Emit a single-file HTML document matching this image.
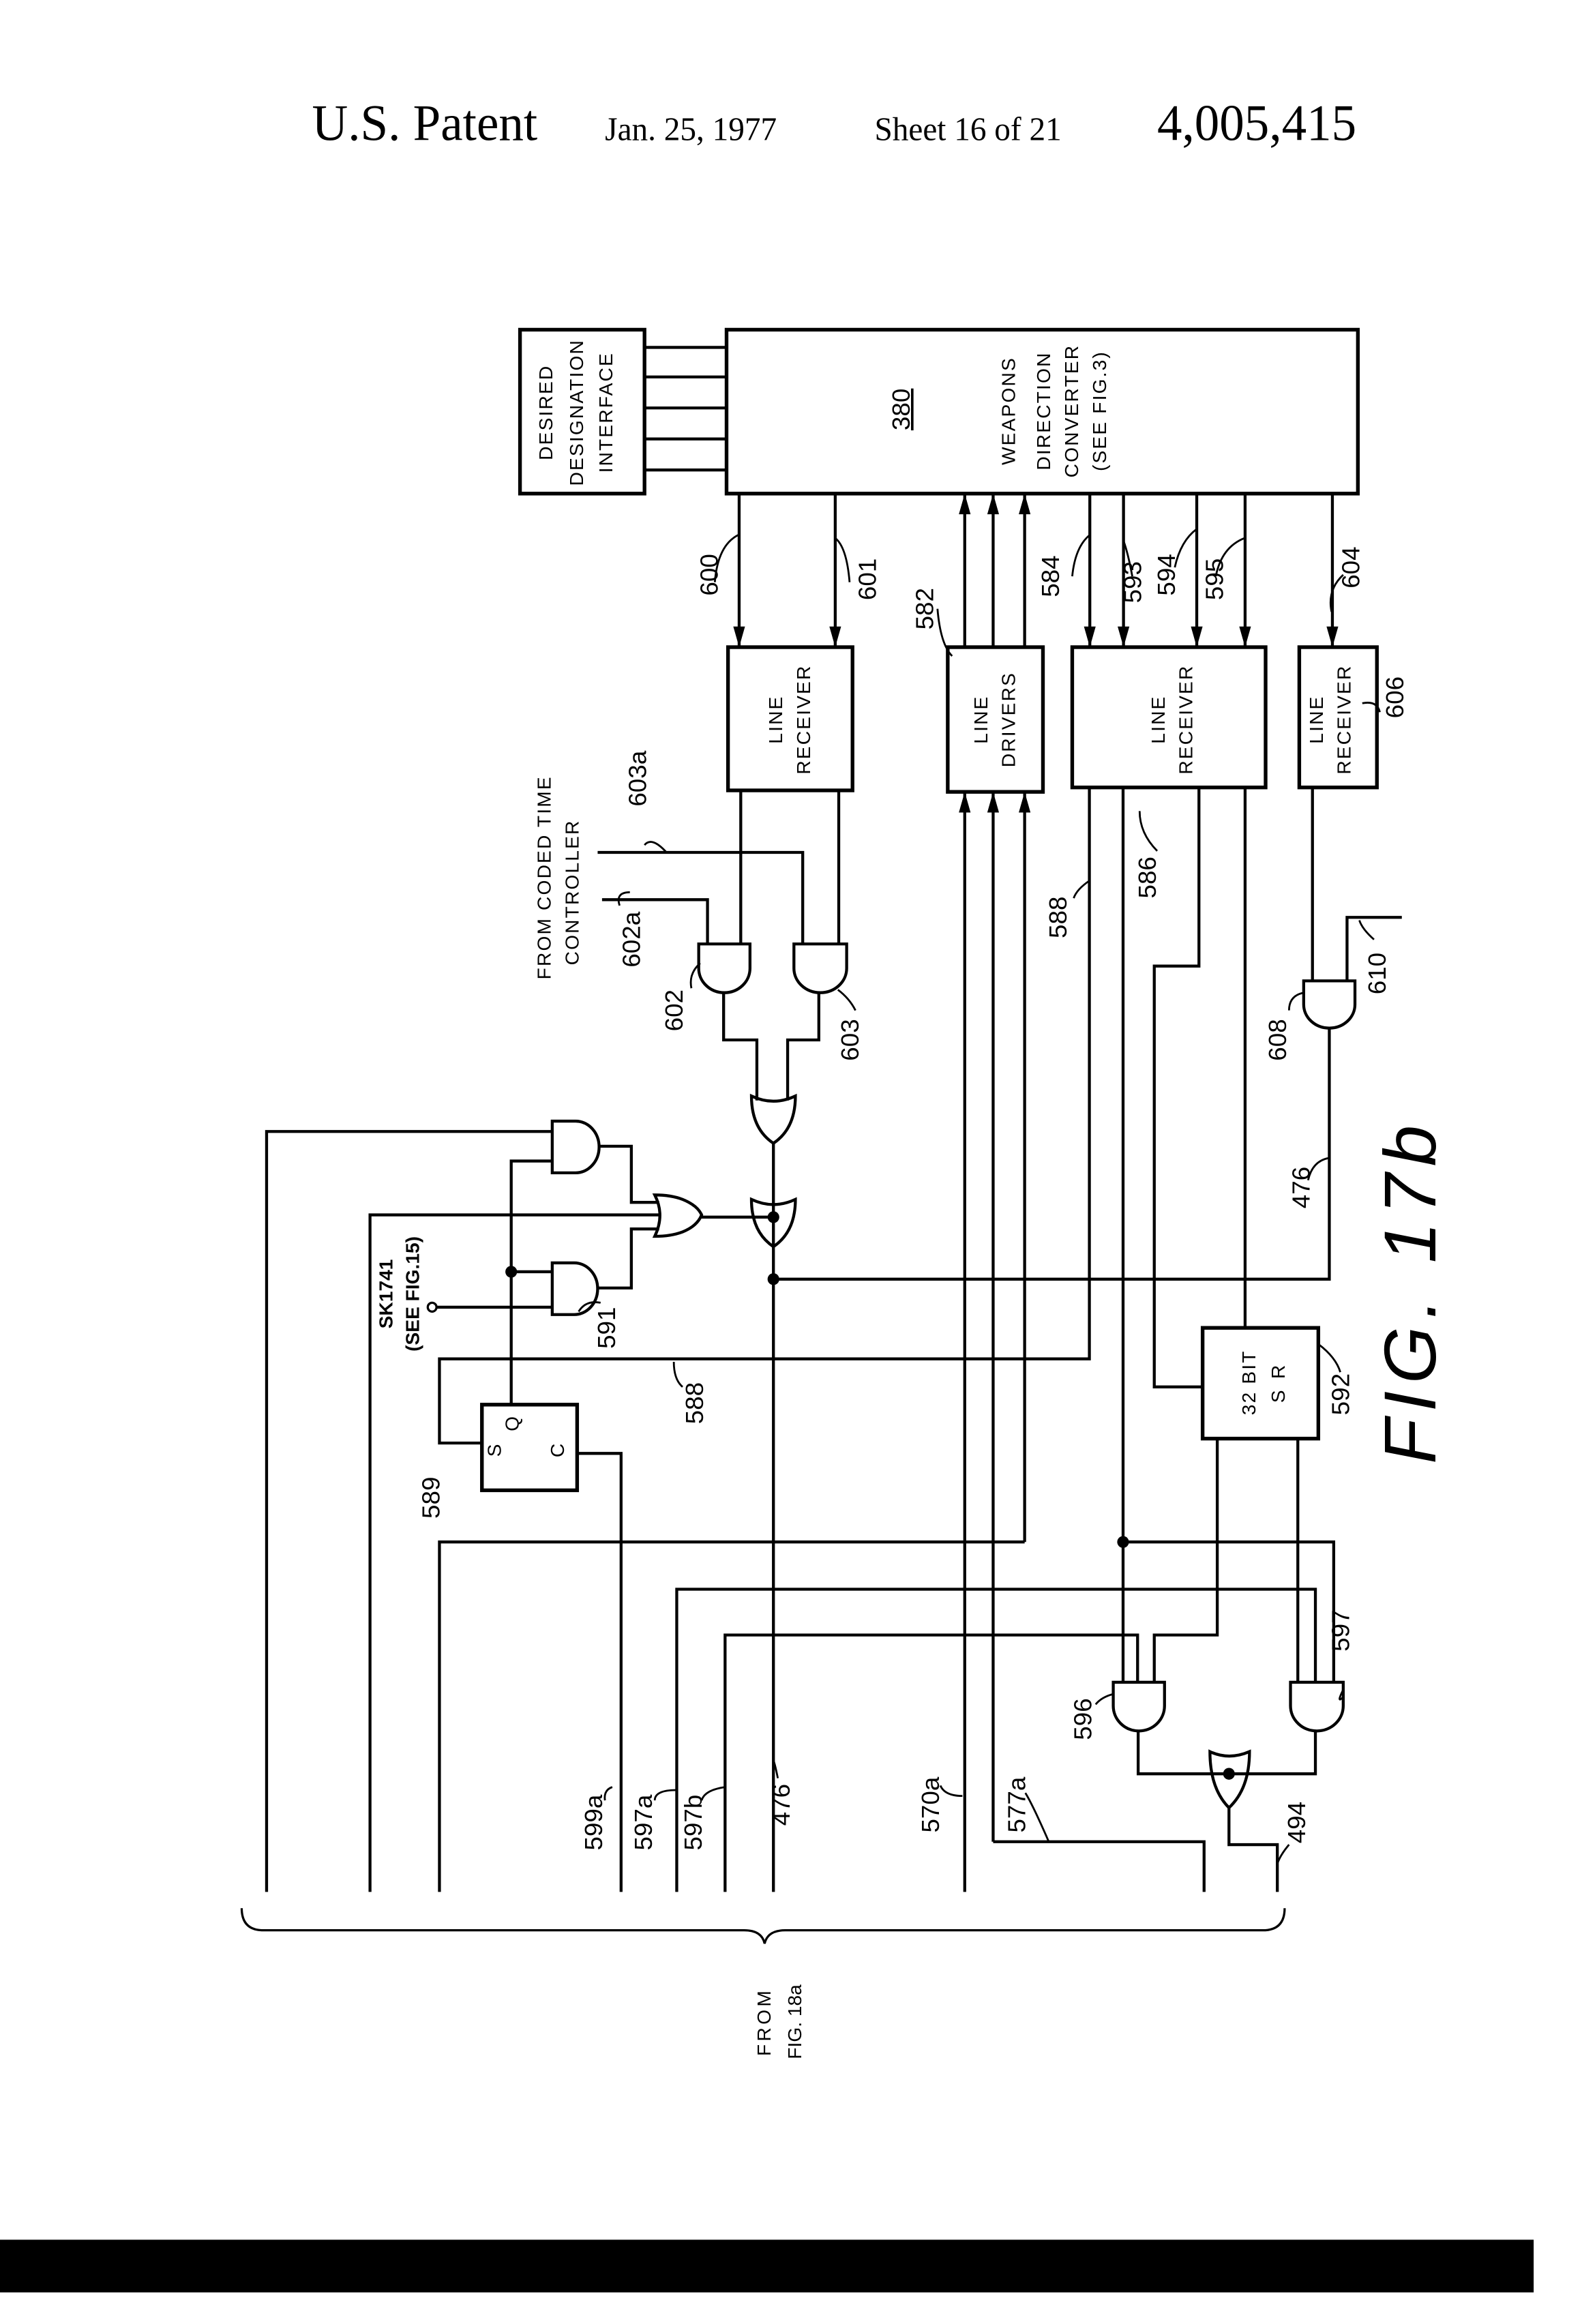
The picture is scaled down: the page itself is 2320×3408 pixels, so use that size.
<!DOCTYPE html>
<html><head><meta charset="utf-8"><style>
html,body{margin:0;padding:0;background:#fff;}
svg{display:block;}
text{font-family:"Liberation Sans",sans-serif;fill:#000;}
.s{font-family:"Liberation Serif",serif;}
</style></head><body>
<svg width="2320" height="3408" viewBox="0 0 1080 1544" preserveAspectRatio="none" xmlns="http://www.w3.org/2000/svg">
<rect width="1080" height="1544" fill="#fff"/>
<text class="s" x="213" y="93" font-size="34">U.S. Patent</text>
<text class="s" x="413" y="93" font-size="22">Jan. 25, 1977</text>
<text class="s" x="597" y="93" font-size="22">Sheet 16 of 21</text>
<text class="s" x="790" y="93" font-size="34">4,005,415</text>

<g transform="matrix(1,0,0,0.981,0,4.2)">
<g fill="none" stroke="#000" stroke-width="2">
<rect x="355" y="219" width="85" height="111" stroke-width="2.5"/>
<rect x="496" y="219" width="431" height="111" stroke-width="2.5"/>
<path d="M440 231H496M440 251H496M440 272H496M440 293H496M440 314H496"/>
<rect x="497" y="434" width="85" height="97" stroke-width="2.5"/>
<rect x="647" y="434" width="65" height="98" stroke-width="2.5"/>
<rect x="732" y="434" width="132" height="95" stroke-width="2.5"/>
<rect x="887" y="434" width="53" height="95" stroke-width="2.5"/>
<path d="M504.6 330V434M570.2 330V434M744 330V434M767 330V434M817 330V434M850 330V434M909.6 330V434"/>
<path d="M658.6 434V330M678 434V330M699.5 434V330"/>
<path d="M658.6 1277V532M678 1243V532M699.5 1040V532"/>
<path d="M678 1243H822V1277M699.5 1040H300V1277"/>
<path d="M411 605H483V635M408 573H548V635M505.7 531V635M572.6 531V635"/>
<path d="M477 635H512V651.5A17.5 16.5 0 0 1 477 651.5Z"/>
<path d="M542 635H578V651.5A18 16.5 0 0 1 542 651.5Z"/>
<path d="M494 668V700H516.7V741M559 668V700H537.7V741"/>
<path d="M513 738Q528 745 543 738Q543 760 528 770Q513 760 513 738Z"/>
<path d="M528 770V1277"/>
<path d="M513 808Q528 815 543 808Q543 830 528 840Q513 830 513 808Z"/>
<path d="M182 1277V762H377M349 947V782H377M349 857H377M298 881H377"/>
<path d="M377 755H393A16 17.5 0 0 1 393 790H377Z"/>
<path d="M377 851H392A16 17.5 0 0 1 392 886H377Z"/>
<path d="M409 772H431V810H450M408 868H431V828H450M252.6 1277V818.5H451"/>
<path d="M447 805Q458 805 466 808Q476 812 479 818.5Q476 826 466 830Q458 833 447 833Q454 818.5 447 805Z"/>
<path d="M479 820H528"/>
<path d="M528 862H907.5V692"/>
<rect x="329" y="947" width="65" height="58" stroke-width="2.5"/>
<path d="M743.7 529V916H300V973H329M394 980H424V1277"/>
<path d="M766.7 529V1135M818.5 529V650H788V935H821M850 529V895"/>
<rect x="821" y="895" width="79" height="75" stroke-width="2.5"/>
<path d="M831 970V1103H788V1135M886 970V1135"/>
<path d="M462 1277V1072H898V1135M495 1277V1103H776.6V1135M766.7 1040H910.5V1135"/>
<path d="M896 529V660M919.6 660V617H957"/>
<path d="M890 660H925V676A17.5 16 0 0 1 890 676Z"/>
<path d="M760 1135H795V1151A17.5 17 0 0 1 760 1151Z"/>
<path d="M881 1135H917V1151A18 17 0 0 1 881 1151Z"/>
<path d="M777 1168V1197H898V1168"/>
<path d="M826 1182Q839 1188 853 1182Q853 1207 839 1220Q826 1207 826 1182Z"/>
<path d="M839 1220V1245H872V1277"/>
<path d="M165 1288Q165 1303 180 1303H508Q520 1303 522 1312Q524 1303 536 1303H862Q877 1303 877 1288" stroke-width="1.5"/>
<path d="M488 390Q490 365 504 358M580 390Q578 366 570 360M640 408Q642 432 650 440M732 386Q734 366 744 358M773 386Q770 370 767 362M802 380Q806 362 817 354M830 386Q834 366 850 360M917 385Q906 395 909 410M930 472Q940 470 942 478M440 568Q445 562 455 573M423 609Q420 600 430 600M472 665Q470 655 478 648M572 666Q580 672 584 680M733 604Q735 598 744 592M790 572Q778 560 778 545M938 632Q930 625 928 619M880 680Q880 670 890 668M893 795Q896 782 907 780M410 878Q400 876 395 884M466 935Q460 930 460 918M915 925Q912 915 900 906M413 1215Q412 1208 418 1206M447 1215Q447 1208 462 1208M479 1215Q481 1208 495 1206M531 1200Q529 1190 528 1188M642 1205Q645 1212 657 1212M700 1210Q705 1218 716 1243M748 1150Q752 1145 760 1143M917 1140Q912 1150 917 1145M880 1245Q874 1252 872 1258" stroke-width="1.3"/>
</g>
<g fill="#000">
<polygon points="500.6,420 508.6,420 504.6,434"/>
<polygon points="566.2,420 574.2,420 570.2,434"/>
<polygon points="740,420 748,420 744,434"/>
<polygon points="763,420 771,420 767,434"/>
<polygon points="813,420 821,420 817,434"/>
<polygon points="846,420 854,420 850,434"/>
<polygon points="905.6,420 913.6,420 909.6,434"/>
<polygon points="654.6,344 662.6,344 658.6,330"/>
<polygon points="674,344 682,344 678,330"/>
<polygon points="695.5,344 703.5,344 699.5,330"/>
<polygon points="654.6,546 662.6,546 658.6,532"/>
<polygon points="674,546 682,546 678,532"/>
<polygon points="695.5,546 703.5,546 699.5,532"/>
<circle cx="528" cy="820" r="4"/><circle cx="528" cy="862" r="4"/><circle cx="349" cy="857" r="4"/>
<circle cx="766.7" cy="1040" r="4"/><circle cx="839" cy="1197" r="4"/>
</g>
<circle cx="295" cy="881" r="3" fill="#fff" stroke="#000" stroke-width="1.5"/>

<g font-size="13" text-anchor="middle">
<text transform="translate(377,275) rotate(-90)" letter-spacing="1">DESIRED</text>
<text transform="translate(398,275) rotate(-90)" letter-spacing="1">DESIGNATION</text>
<text transform="translate(418,275) rotate(-90)" letter-spacing="1">INTERFACE</text>
<text transform="translate(693,274) rotate(-90)" letter-spacing="1">WEAPONS</text>
<text transform="translate(717,274) rotate(-90)" letter-spacing="1">DIRECTION</text>
<text transform="translate(736,274) rotate(-90)" letter-spacing="1">CONVERTER</text>
<text transform="translate(755,274) rotate(-90)" letter-spacing="1">(SEE FIG.3)</text>
<text transform="translate(534,483) rotate(-90)" letter-spacing="1">LINE</text>
<text transform="translate(553,483) rotate(-90)" letter-spacing="1">RECEIVER</text>
<text transform="translate(674,483) rotate(-90)" letter-spacing="1">LINE</text>
<text transform="translate(693,483) rotate(-90)" letter-spacing="1">DRIVERS</text>
<text transform="translate(795,483) rotate(-90)" letter-spacing="1">LINE</text>
<text transform="translate(814,483) rotate(-90)" letter-spacing="1">RECEIVER</text>
<text transform="translate(903,483) rotate(-90)" letter-spacing="1">LINE</text>
<text transform="translate(922,483) rotate(-90)" letter-spacing="1">RECEIVER</text>
<text transform="translate(376,590) rotate(-90)" letter-spacing="1">FROM CODED TIME</text>
<text transform="translate(395,600) rotate(-90)" letter-spacing="1">CONTROLLER</text>
<text transform="translate(268,872) rotate(-90)" font-weight="bold">SK1741</text>
<text transform="translate(286,872) rotate(-90)" font-weight="bold">(SEE FIG.15)</text>
<text transform="translate(342,978) rotate(-90)">S</text>
<text transform="translate(354,960) rotate(-90)">Q</text>
<text transform="translate(385,978) rotate(-90)">C</text>
<text transform="translate(857,932) rotate(-90)" letter-spacing="1">32 BIT</text>
<text transform="translate(877,932) rotate(-90)" letter-spacing="2">S R</text>
<text transform="translate(526,1365) rotate(-90)" letter-spacing="2">FROM</text>
<text transform="translate(547,1365) rotate(-90)">FIG. 18a</text>
</g>
<g font-size="17" text-anchor="middle">
<text transform="translate(621,273) rotate(-90)" text-decoration="underline">380</text>
<text transform="translate(490,385) rotate(-90)">600</text>
<text transform="translate(598,388) rotate(-90)">601</text>
<text transform="translate(637,408) rotate(-90)">582</text>
<text transform="translate(723,386) rotate(-90)">584</text>
<text transform="translate(779,390) rotate(-90)">593</text>
<text transform="translate(802,385) rotate(-90)">594</text>
<text transform="translate(835,388) rotate(-90)">595</text>
<text transform="translate(928,380) rotate(-90)">604</text>
<text transform="translate(958,468) rotate(-90)">606</text>
<text transform="translate(441,523) rotate(-90)">603a</text>
<text transform="translate(437,632) rotate(-90)">602a</text>
<text transform="translate(466,680) rotate(-90)">602</text>
<text transform="translate(586,700) rotate(-90)">603</text>
<text transform="translate(728,617) rotate(-90)">588</text>
<text transform="translate(789,590) rotate(-90)">586</text>
<text transform="translate(946,655) rotate(-90)">610</text>
<text transform="translate(878,700) rotate(-90)">608</text>
<text transform="translate(894,800) rotate(-90)">476</text>
<text transform="translate(420,895) rotate(-90)">591</text>
<text transform="translate(480,946) rotate(-90)">588</text>
<text transform="translate(300,1010) rotate(-90)">589</text>
<text transform="translate(921,940) rotate(-90)">592</text>
<text transform="translate(411,1230) rotate(-90)">599a</text>
<text transform="translate(445,1230) rotate(-90)">597a</text>
<text transform="translate(479,1230) rotate(-90)">597b</text>
<text transform="translate(539,1218) rotate(-90)">476</text>
<text transform="translate(641,1218) rotate(-90)">570a</text>
<text transform="translate(700,1218) rotate(-90)">577a</text>
<text transform="translate(745,1160) rotate(-90)">596</text>
<text transform="translate(921,1100) rotate(-90)">597</text>
<text transform="translate(891,1230) rotate(-90)">494</text>
</g>
<text transform="translate(980,870) rotate(-90)" font-size="50" font-style="italic" text-anchor="middle" letter-spacing="5">FIG. 17b</text>
</g>
<rect x="0" y="1488" width="1047" height="35" fill="#000"/>
</svg>
</body></html>
